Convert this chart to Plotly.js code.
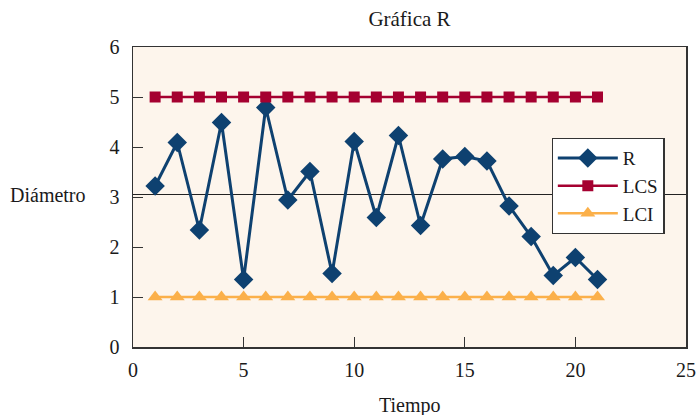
<!DOCTYPE html>
<html>
<head>
<meta charset="utf-8">
<script src="https://cdn.plot.ly/plotly-3.0.1.min.js"></script>
<style>html,body{margin:0;padding:0;background:#fff;}#chart{width:699px;height:415px;}</style>
</head>
<body>
<div id="chart"></div>
<script>
const tiempo = [1,2,3,4,5,6,7,8,9,10,11,12,13,14,15,16,17,18,19,20,21];
const rValues = [3.22,4.09,2.34,4.49,1.35,4.79,2.94,3.51,1.47,4.11,2.59,4.23,2.43,3.76,3.81,3.72,2.82,2.21,1.43,1.79,1.35];
const lcsValues = [5,5,5,5,5,5,5,5,5,5,5,5,5,5,5,5,5,5,5,5,5];
const lciValues = [1,1,1,1,1,1,1,1,1,1,1,1,1,1,1,1,1,1,1,1,1];
const centerLine = 3.05;
const xTicks = [0,5,10,15,20,25];
const yTicks = [0,1,2,3,4,5,6];

const font = "Liberation Serif, Times New Roman, serif";
const txt = '#1a1a1a';

const traces = [
  {x: tiempo, y: rValues, name: 'R', mode: 'lines+markers',
   line: {color: '#0e4170', width: 3},
   marker: {symbol: 'diamond', size: 15, color: '#0e4170'}},
  {x: tiempo, y: lcsValues, name: 'LCS', mode: 'lines+markers',
   line: {color: '#a50030', width: 2.5},
   marker: {symbol: 'square', size: 11, color: '#a50030'}},
  {x: tiempo, y: lciValues, name: 'LCI', mode: 'lines+markers',
   line: {color: '#fbb04a', width: 2.5},
   marker: {symbol: 'triangle-up', size: 13, color: '#fbb04a'}}
];

const layout = {
  width: 699, height: 415,
  margin: {l: 133, r: 13, t: 47, b: 68},
  paper_bgcolor: '#ffffff',
  plot_bgcolor: '#fdf5ec',
  font: {family: font, size: 20, color: txt},
  showlegend: true,
  title: {text: 'Gráfica R', x: 0.5, xref: 'paper', y: 0.955, yanchor: 'middle',
          font: {family: font, size: 21, color: txt}},
  xaxis: {range: [0, 25], tickvals: xTicks, ticktext: xTicks.map(String),
          showgrid: false, zeroline: false, showline: true, linecolor: '#333', linewidth: 1.5,
          mirror: true, ticks: 'inside', ticklen: 10, tickcolor: '#333', tickwidth: 1,
          ticklabelstandoff: 4, fixedrange: true, tickfont: {family: font, size: 20, color: txt}},
  yaxis: {range: [0, 6], tickvals: yTicks, ticktext: yTicks.map(String),
          showgrid: false, zeroline: false, showline: true, linecolor: '#333', linewidth: 1.5,
          mirror: true, ticks: 'inside', ticklen: 10, tickcolor: '#333', tickwidth: 1,
          ticklabelstandoff: 8, fixedrange: true, tickfont: {family: font, size: 20, color: txt}},
  legend: {x: 0.757, y: 0.697, xanchor: 'left', yanchor: 'top',
           bgcolor: '#ffffff', bordercolor: '#333', borderwidth: 1.2, itemwidth: 60,
           font: {family: font, size: 19, color: txt}, tracegroupgap: 0},
  shapes: [{type: 'line', xref: 'paper', x0: 0, x1: 1, yref: 'y', y0: centerLine, y1: centerLine,
            line: {color: '#222', width: 1.2}, layer: 'below'}],
  annotations: [
    {text: 'Diámetro', xref: 'paper', x: -0.081, xanchor: 'right', yref: 'y', y: centerLine, yanchor: 'middle',
     showarrow: false, font: {family: font, size: 20, color: txt}},
    {text: 'Tiempo', xref: 'paper', x: 0.5, xanchor: 'center', yref: 'paper', y: -0.195, yanchor: 'middle',
     showarrow: false, font: {family: font, size: 20, color: txt}}
  ]
};

Plotly.newPlot('chart', traces, layout, {displayModeBar: false, staticPlot: true});
</script>
</body>
</html>
